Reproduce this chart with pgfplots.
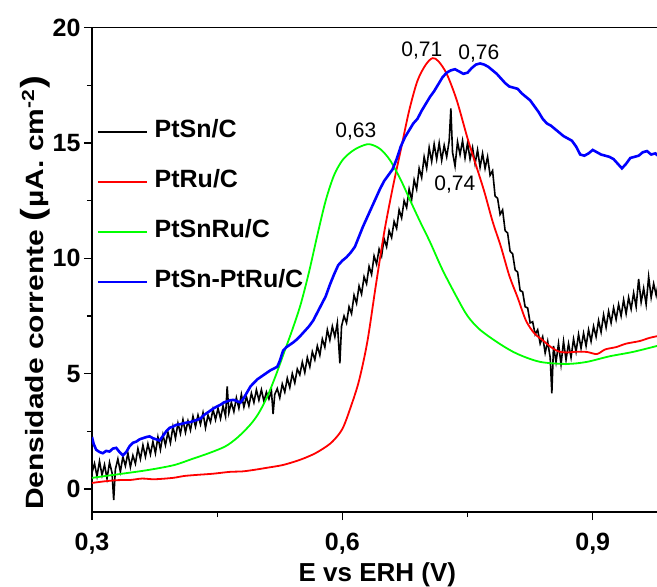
\documentclass[border=0pt]{standalone}
\usepackage{pgfplots}
\pgfplotsset{compat=1.18}
\usepackage{fontspec}
\setmainfont{Liberation Sans}
\usepackage{graphicx}

\begin{document}
\begin{tikzpicture}
\begin{axis}[
  scale only axis, width=565pt, height=484.3pt,
  xmin=0.3, xmax=0.977, ymin=-1, ymax=20,
  separate axis lines, axis x line*=box, axis y line*=left,
  axis line style={line width=1.4pt, -},
  tick pos=left, tick align=outside,
  major tick length=8pt, minor tick length=5pt,
  every tick/.style={black, line width=1.2pt},
  xtick={0.3,0.6,0.9}, xticklabels={{0,3},{0,6},{0,9}},
  minor xtick={0.45,0.75},
  ytick={0,5,10,15,20}, minor ytick={2.5,7.5,12.5,17.5},
  /pgf/number format/assume math mode=true,
  tick label style={font=\fontsize{25}{25}\selectfont\bfseries},
  xticklabel style={yshift=-10pt},
  xlabel={E vs ERH (V)},
  xlabel style={font=\fontsize{26}{26}\selectfont\bfseries, at={(axis description cs:0.505,-0.1445)}, anchor=base},
  ylabel={\scalebox{1.2}[1]{Densidade corrente {\fontsize{32}{32}\selectfont(}\hspace{1pt}µA. cm\textsuperscript{-2}\hspace{1pt}{\fontsize{32}{32}\selectfont)}}},
  ylabel style={font=\fontsize{25}{25}\selectfont\bfseries, at={(axis description cs:-0.101,0.453)}, anchor=center},
  legend style={at={(axis description cs:0,1)}, anchor=north west, xshift=5pt, yshift=-92pt,
    draw=none, fill=none, inner sep=0pt, row sep=26pt,
    font=\fontsize{25}{25}\selectfont\bfseries,
    nodes={inner sep=0pt, text height=18pt, text depth=6pt, anchor=west},
    /tikz/every odd column/.append style={column sep=7pt}},
  legend cell align=left,
  legend image code/.code={\draw[#1, line width=1.5pt] (0pt,0pt) -- (49pt,0pt);},
]
% PtSn/C (black, noisy)
\addplot[black, line width=1.6pt] coordinates {
(0.300,0.70) (0.303,1.10) (0.306,0.55) (0.309,1.20) (0.312,0.60) (0.315,1.05) (0.318,0.45) (0.321,1.15) (0.324,0.70) (0.326,-0.48) (0.328,0.85)
(0.331,1.30) (0.334,0.75) (0.337,1.40) (0.340,1.00) (0.343,1.55) (0.346,0.95) (0.349,1.45) (0.352,1.10) (0.355,1.75) (0.358,1.30)
(0.361,1.90) (0.364,1.40) (0.367,1.95) (0.370,1.50) (0.373,2.05) (0.376,1.55) (0.379,2.25) (0.382,1.70) (0.385,2.35) (0.388,1.90)
(0.391,2.45) (0.394,2.00) (0.397,2.70) (0.400,2.20) (0.403,2.85) (0.406,2.40) (0.409,3.00) (0.412,2.45) (0.415,2.95) (0.418,2.55)
(0.421,3.15) (0.424,2.70) (0.427,3.20) (0.430,2.80) (0.433,3.30) (0.436,2.65) (0.439,3.20) (0.442,2.90) (0.445,3.45) (0.448,3.00)
(0.451,3.50) (0.454,3.05) (0.457,3.60) (0.460,3.15) (0.462,4.45) (0.464,3.30) (0.467,3.75) (0.470,3.35) (0.473,3.95) (0.476,3.50)
(0.479,4.10) (0.482,3.55) (0.485,4.00) (0.488,3.60) (0.491,4.15) (0.494,3.75) (0.497,4.30) (0.500,3.85) (0.503,4.30) (0.506,3.80)
(0.509,4.20) (0.512,3.90) (0.515,4.25) (0.517,3.25) (0.519,4.10) (0.522,4.35) (0.525,3.95) (0.528,4.55) (0.531,4.20) (0.534,4.80)
(0.537,4.40) (0.540,5.00) (0.543,4.60) (0.546,5.20) (0.549,4.95) (0.552,5.50) (0.555,5.05) (0.558,5.70) (0.561,5.30) (0.564,5.95)
(0.567,5.60) (0.570,6.20) (0.573,5.80) (0.576,6.50) (0.579,6.15) (0.582,6.90) (0.585,6.45) (0.588,7.05) (0.591,6.60) (0.594,7.20)
(0.597,5.45) (0.599,7.05) (0.602,7.50) (0.605,7.20) (0.608,7.90) (0.611,7.60) (0.614,8.40) (0.617,8.05) (0.620,8.80) (0.623,8.45)
(0.626,9.20) (0.629,8.90) (0.632,9.65) (0.635,9.30) (0.638,10.10) (0.641,9.75) (0.644,10.40) (0.647,10.10) (0.650,10.85) (0.653,10.50)
(0.656,11.20) (0.659,10.90) (0.662,11.60) (0.665,11.30) (0.668,12.10) (0.671,11.75) (0.674,12.50) (0.677,12.20) (0.680,13.00) (0.683,12.55)
(0.686,13.40) (0.689,13.00) (0.692,13.90) (0.695,13.50) (0.698,14.40) (0.701,13.90) (0.704,14.80) (0.707,14.20) (0.710,14.95) (0.713,14.30)
(0.716,15.00) (0.719,14.25) (0.722,14.90) (0.725,14.40) (0.728,15.10) (0.730,16.50) (0.732,14.60) (0.735,14.00) (0.738,15.05) (0.741,14.50)
(0.744,15.10) (0.747,14.35) (0.750,15.00) (0.753,14.30) (0.756,14.80) (0.759,14.10) (0.762,14.70) (0.765,13.95) (0.768,14.55) (0.771,13.90)
(0.774,14.40) (0.777,13.60) (0.780,13.80) (0.783,12.70) (0.786,12.60) (0.789,11.90) (0.792,12.10) (0.795,11.20) (0.798,11.10) (0.801,10.30)
(0.804,10.20) (0.807,9.50) (0.810,9.40) (0.813,8.60) (0.816,8.55) (0.819,7.90) (0.822,7.85) (0.825,7.20) (0.828,7.25) (0.831,6.70)
(0.834,6.90) (0.837,6.30) (0.840,6.60) (0.843,5.90) (0.846,6.40) (0.849,5.70) (0.851,4.15) (0.853,6.20) (0.856,5.50) (0.859,6.30)
(0.862,5.40) (0.865,6.40) (0.868,5.60) (0.871,6.30) (0.874,5.70) (0.877,6.50) (0.880,5.95) (0.883,6.70) (0.886,6.10) (0.889,6.75)
(0.892,6.20) (0.895,6.90) (0.898,6.40) (0.901,7.05) (0.904,6.60) (0.907,7.30) (0.910,6.80) (0.913,7.55) (0.916,7.00) (0.919,7.70)
(0.922,7.20) (0.925,7.85) (0.928,7.35) (0.931,8.00) (0.934,7.50) (0.937,8.20) (0.940,7.60) (0.943,8.30) (0.946,7.80) (0.949,8.50)
(0.952,7.90) (0.955,9.10) (0.958,8.10) (0.961,8.70) (0.964,8.00) (0.967,9.20) (0.970,8.30) (0.973,8.90) (0.976,8.40) (0.978,8.80)
};
\addlegendentry{PtSn/C}
% PtRu/C (red)
\addplot[red, line width=1.8pt, smooth] coordinates {
(0.300,0.26) (0.315,0.33) (0.330,0.38) (0.346,0.39) (0.360,0.45) (0.375,0.42) (0.397,0.48) (0.410,0.56) (0.426,0.61) (0.445,0.66)
(0.465,0.74) (0.480,0.76) (0.493,0.82) (0.510,0.92) (0.529,1.04) (0.549,1.26) (0.565,1.50) (0.577,1.75) (0.588,2.05)
(0.600,2.60) (0.610,3.55) (0.620,4.70) (0.630,6.40) (0.640,8.80) (0.650,11.10) (0.660,13.00) (0.670,14.70) (0.680,16.40)
(0.690,17.70) (0.700,18.40) (0.708,18.68) (0.715,18.55) (0.725,18.00) (0.737,16.86) (0.750,15.20) (0.760,14.05) (0.770,12.90)
(0.780,11.60) (0.790,10.50) (0.800,9.25) (0.810,8.30) (0.820,7.30) (0.830,6.75) (0.840,6.45) (0.850,6.15) (0.860,5.95)
(0.870,5.92) (0.880,5.95) (0.893,5.94) (0.905,5.85) (0.915,6.05) (0.928,6.15) (0.940,6.30) (0.956,6.41) (0.968,6.55) (0.978,6.63)
};
\addlegendentry{PtRu/C}
% PtSnRu/C (green)
\addplot[green, line width=1.8pt, smooth] coordinates {
(0.300,0.48) (0.320,0.58) (0.340,0.68) (0.360,0.78) (0.380,0.90) (0.400,1.05) (0.420,1.30) (0.440,1.55) (0.460,1.85)
(0.475,2.25) (0.490,2.80) (0.500,3.30) (0.510,4.00) (0.520,4.90) (0.530,5.90) (0.540,6.90) (0.550,8.00) (0.560,9.40)
(0.570,11.00) (0.580,12.50) (0.590,13.60) (0.600,14.25) (0.610,14.60) (0.620,14.82) (0.632,14.95) (0.645,14.75) (0.657,14.26)
(0.670,13.40) (0.681,12.53) (0.693,11.60) (0.705,10.71) (0.720,9.50) (0.737,8.32) (0.750,7.50) (0.765,6.90) (0.789,6.28)
(0.810,5.85) (0.837,5.51) (0.869,5.42) (0.893,5.51) (0.920,5.75) (0.948,5.94) (0.977,6.20)
};
\addlegendentry{PtSnRu/C}
% PtSn-PtRu/C (blue)
\addplot[blue, line width=2.6pt] coordinates {
(0.300,2.25) (0.302,1.95) (0.305,1.70) (0.309,1.60) (0.313,1.55) (0.317,1.65) (0.321,1.62) (0.325,1.75) (0.329,1.78) (0.333,1.60)
(0.337,1.45) (0.341,1.60) (0.345,1.85) (0.349,2.00) (0.353,2.05) (0.357,2.15) (0.361,2.20) (0.365,2.25) (0.369,2.28) (0.373,2.20)
(0.377,2.15) (0.381,2.10) (0.385,2.30) (0.389,2.50) (0.393,2.65) (0.397,2.70) (0.401,2.78) (0.405,2.80) (0.410,2.85) (0.414,2.88)
(0.418,2.90) (0.422,2.95) (0.426,3.00) (0.430,3.05) (0.434,3.20) (0.438,3.30) (0.442,3.40) (0.446,3.50) (0.450,3.58) (0.454,3.65)
(0.458,3.75) (0.462,3.80) (0.466,3.85) (0.470,3.86) (0.474,3.80) (0.478,3.75) (0.482,3.95) (0.486,4.20) (0.490,4.45) (0.494,4.60)
(0.498,4.75) (0.502,4.85) (0.506,4.95) (0.510,5.05) (0.514,5.15) (0.518,5.22) (0.522,5.30) (0.525,5.55) (0.529,6.00) (0.533,6.15)
(0.537,6.25) (0.541,6.35) (0.546,6.50) (0.550,6.65) (0.555,6.85) (0.560,7.05) (0.565,7.30) (0.570,7.65) (0.575,8.00) (0.580,8.35)
(0.585,8.85) (0.590,9.30) (0.595,9.70) (0.600,9.90) (0.605,10.05) (0.610,10.25) (0.615,10.50) (0.620,10.95) (0.625,11.40) (0.630,11.80)
(0.635,12.20) (0.640,12.60) (0.645,13.00) (0.650,13.35) (0.655,13.60) (0.660,13.85) (0.665,14.30) (0.670,14.85) (0.675,15.25) (0.680,15.55)
(0.685,15.85) (0.690,16.05) (0.695,16.40) (0.700,16.70) (0.705,17.00) (0.710,17.25) (0.715,17.55) (0.720,17.85) (0.725,18.05) (0.730,18.15)
(0.735,18.20) (0.740,18.10) (0.745,18.00) (0.750,18.05) (0.755,18.25) (0.760,18.40) (0.765,18.45) (0.770,18.40) (0.775,18.30) (0.780,18.15)
(0.785,18.00) (0.790,17.80) (0.795,17.60) (0.800,17.45) (0.805,17.40) (0.810,17.35) (0.815,17.15) (0.820,17.00) (0.825,16.85) (0.830,16.60)
(0.835,16.35) (0.840,16.05) (0.845,15.85) (0.850,15.75) (0.855,15.60) (0.860,15.45) (0.865,15.30) (0.870,15.20) (0.875,15.10) (0.880,14.85)
(0.885,14.50) (0.890,14.45) (0.895,14.55) (0.900,14.70) (0.905,14.60) (0.910,14.50) (0.915,14.45) (0.920,14.40) (0.925,14.30) (0.930,14.10)
(0.935,13.90) (0.940,14.10) (0.945,14.35) (0.950,14.40) (0.955,14.45) (0.960,14.60) (0.965,14.65) (0.970,14.50) (0.975,14.55) (0.978,14.45)
};
\addlegendentry{PtSn-PtRu/C}
\node[font=\fontsize{21}{21}\selectfont] at (axis cs:0.6952,19.03) {0,71};
\node[font=\fontsize{21}{21}\selectfont] at (axis cs:0.7635,18.86) {0,76};
\node[font=\fontsize{21}{21}\selectfont] at (axis cs:0.6162,15.52) {0,63};
\node[font=\fontsize{21}{21}\selectfont] at (axis cs:0.7347,13.18) {0,74};
\end{axis}
\pgfresetboundingbox
\path[use as bounding box] ([xshift=-92pt,yshift=-75pt]current axis.south west) rectangle ([yshift=27.7pt]current axis.north east);
\end{tikzpicture}
\end{document}
